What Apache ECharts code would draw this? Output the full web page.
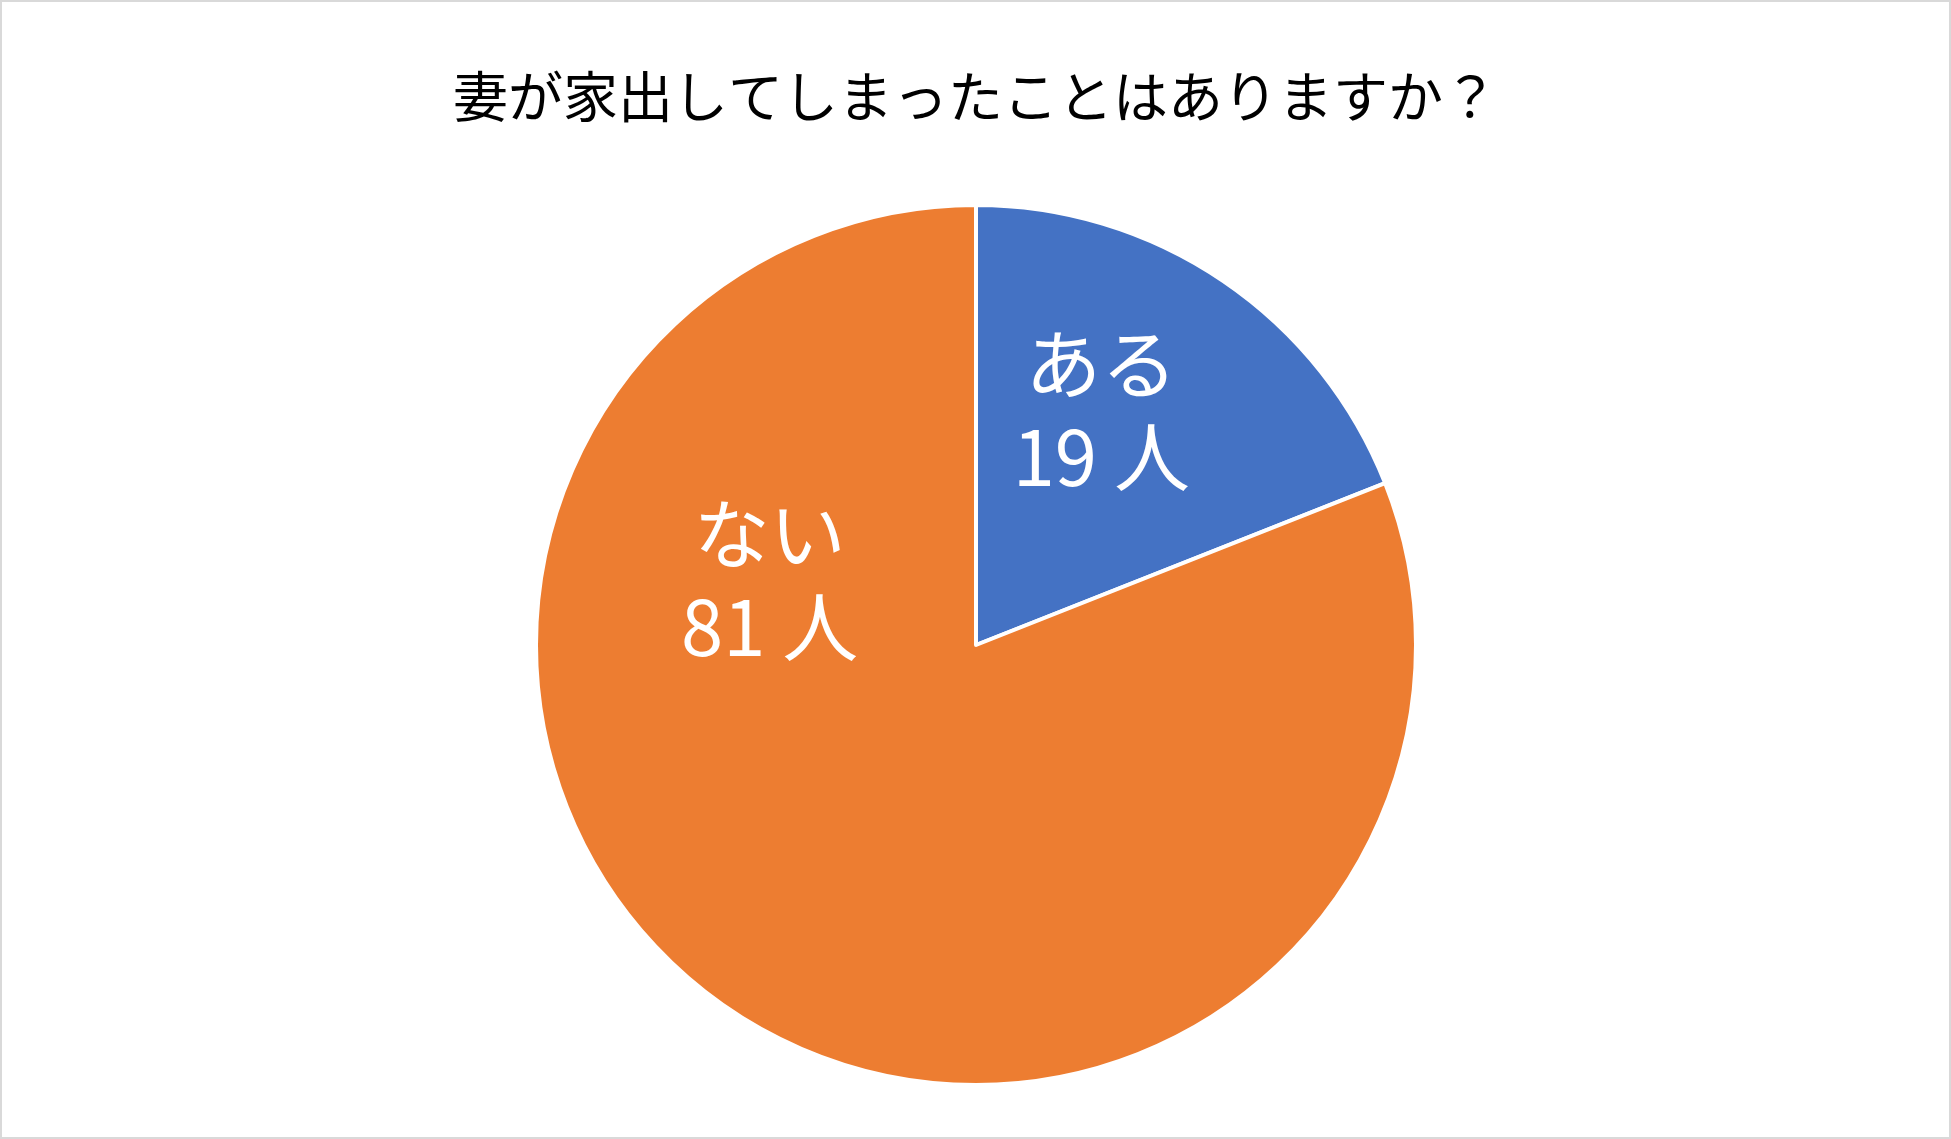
<!DOCTYPE html>
<html><head><meta charset="utf-8">
<script src="https://cdn.jsdelivr.net/npm/echarts@6/dist/echarts.min.js"></script>
<style>html,body{margin:0;padding:0;background:#fff}#c{width:1951px;height:1139px;box-sizing:border-box;border:2px solid #d9d9d9}</style>
</head><body><div id="c"></div>
<script>
const categories = ['ある', 'ない'];
const values = [19, 81];
const unit = '人';
const colors = ['#4472C4', '#ED7D31'];
const labelShift = [[0, -50], [-81, -249]];
const chart = echarts.init(document.getElementById('c'));
chart.setOption({
  animation: false,
  title: { text: '妻が家出してしまったことはありますか？', left: 'center', top: 62,
    textStyle: { fontFamily: 'Noto Sans CJK JP', fontSize: 55, fontWeight: 'normal', color: '#000' } },
  series: [{
    type: 'pie', center: [974, 643], radius: [0, 440], startAngle: 90, clockwise: true,
    data: categories.map((n, i) => ({ name: n, value: values[i], itemStyle: { color: colors[i] } })),
    itemStyle: { borderColor: '#fff', borderWidth: 4 },
    label: { position: 'inner', formatter: p => p.name + '\n' + p.value + ' ' + unit,
      color: '#fff', fontSize: 76, lineHeight: 93, fontFamily: 'Noto Sans CJK JP' },
    labelLayout: p => ({ dx: labelShift[p.dataIndex][0], dy: labelShift[p.dataIndex][1] }),
    labelLine: { show: false }
  }]
});
</script></body></html>
